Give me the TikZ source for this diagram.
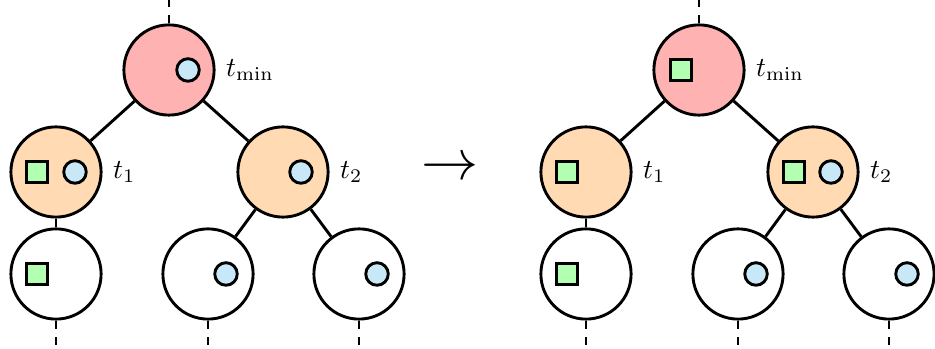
\documentclass[tikz,border=0pt]{standalone}
\definecolor{minred}{RGB}{255,178,178}
\definecolor{torange}{RGB}{255,218,179}
\definecolor{sqgreen}{RGB}{178,255,178}
\definecolor{dotblue}{RGB}{200,232,248}
\begin{document}
\begin{tikzpicture}[x=0.3636pt,y=-0.3636pt,
                       line width=1.05pt,
                       main node/.style={circle,draw,minimum size=32.8pt,inner sep=0pt},
                       min node/.style={main node,fill=minred},
                       t node/.style={main node,fill=torange},
                       sq node/.style={rectangle,draw,fill=sqgreen,minimum size=7.8pt,inner sep=0pt},
                       dot node/.style={circle,draw,fill=dotblue,minimum size=8.2pt,inner sep=0pt}
                      ]
  \useasboundingbox (0,0) rectangle (935,349);
  % before
  \node[min node,label=right:$t_{\min}$] (l1) at (169,70) {};
  \node[t node,label=right:$t_1$] (l2) at (56,172) {};
  \node[t node,label=right:$t_2$] (l3) at (283,172) {};
  \node[main node] (l4) at (56,274) {};
  \node[main node] (l5) at (208,274) {};
  \node[main node] (l6) at (359,274) {};
  \node[dot node] (ld1) at (188,70) {};
  \node[sq node] (ls2) at (37,172) {};
  \node[dot node] (ld2) at (75,172) {};
  \node[dot node] (ld3) at (301,172) {};
  \node[sq node] (ls4) at (37,274) {};
  \node[dot node] (ld5) at (226,274) {};
  \node[dot node] (ld6) at (377,274) {};
  \coordinate (lt) at (169,0);
  \coordinate (lb4) at (56,349);
  \coordinate (lb5) at (208,349);
  \coordinate (lb6) at (359,349);

  \node (arrow) at (450,169) {\huge$\to$};

  % after
  \node[min node,label=right:$t_{\min}$] (r1) at (699,70) {};
  \node[t node,label=right:$t_1$] (r2) at (586,172) {};
  \node[t node,label=right:$t_2$] (r3) at (813,172) {};
  \node[main node] (r4) at (586,274) {};
  \node[main node] (r5) at (738,274) {};
  \node[main node] (r6) at (889,274) {};
  \node[sq node] (rs1) at (681,70) {};
  \node[sq node] (rs2) at (567,172) {};
  \node[sq node] (rs3) at (794,172) {};
  \node[dot node] (rd3) at (831,172) {};
  \node[sq node] (rs4) at (567,274) {};
  \node[dot node] (rd5) at (756,274) {};
  \node[dot node] (rd6) at (907,274) {};
  \coordinate (rt) at (699,0);
  \coordinate (rb4) at (586,349);
  \coordinate (rb5) at (738,349);
  \coordinate (rb6) at (889,349);

  \path[draw]%
   (l1) edge (l2)
   (l1) edge (l3)
   (l2) edge (l4)
   (l3) edge (l5)
   (l3) edge (l6)
   (l1) edge [dashed] (lt)
   (l4) edge [dashed] (lb4)
   (l5) edge [dashed] (lb5)
   (l6) edge [dashed] (lb6)
   (r1) edge (r2)
   (r1) edge (r3)
   (r2) edge (r4)
   (r3) edge (r5)
   (r3) edge (r6)
   (r1) edge [dashed] (rt)
   (r4) edge [dashed] (rb4)
   (r5) edge [dashed] (rb5)
   (r6) edge [dashed] (rb6);
 \end{tikzpicture}
\end{document}
